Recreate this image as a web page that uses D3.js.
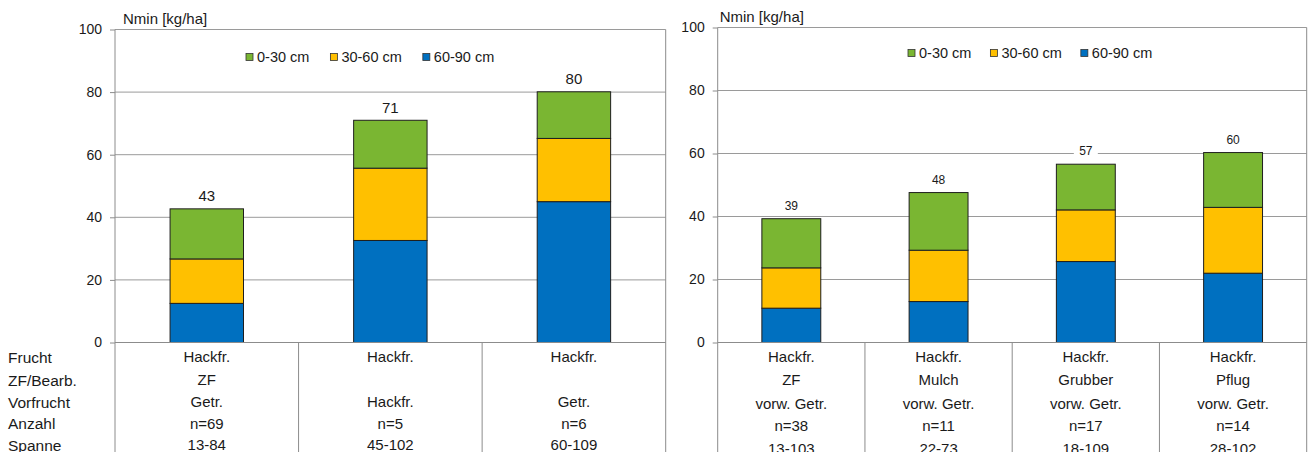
<!DOCTYPE html>
<html>
<head>
<meta charset="utf-8">
<script src="https://cdn.jsdelivr.net/npm/d3@7"></script>
<style>
  html, body { margin: 0; padding: 0; background: #fff; }
  svg { display: block; font-family: "Liberation Sans", Arial, sans-serif; }
</style>
</head>
<body>
<svg id="chart" width="1309" height="452"></svg>
<script>
// Soil mineral nitrogen (Nmin) per depth layer, two panels of stacked bars

const seriesNames = ["0-30 cm", "30-60 cm", "60-90 cm"];
const seriesColors = ["#7AB632", "#FFC000", "#0070C0"];
const rowLabels = ["Frucht", "ZF/Bearb.", "Vorfrucht", "Anzahl", "Spanne"];
const yTicks = [0, 20, 40, 60, 80, 100];
const yTitle = "Nmin [kg/ha]";

// Left panel
const leftCategories = ["A", "B", "C"];
const leftLayer0_30 = [16.0, 15.3, 14.9];
const leftLayer30_60 = [14.2, 23.1, 20.2];
const leftLayer60_90 = [12.5, 32.6, 45.0];
const leftFrucht = ["Hackfr.", "Hackfr.", "Hackfr."];
const leftBearb = ["ZF", "", ""];
const leftVorfrucht = ["Getr.", "Hackfr.", "Getr."];
const leftAnzahl = ["n=69", "n=5", "n=6"];
const leftSpanne = ["13-84", "45-102", "60-109"];

// Right panel
const rightCategories = ["A", "B", "C", "D"];
const rightLayer0_30 = [15.6, 18.3, 14.5, 17.4];
const rightLayer30_60 = [12.8, 16.3, 16.4, 20.9];
const rightLayer60_90 = [10.9, 13.0, 25.7, 22.0];
const rightFrucht = ["Hackfr.", "Hackfr.", "Hackfr.", "Hackfr."];
const rightBearb = ["ZF", "Mulch", "Grubber", "Pflug"];
const rightVorfrucht = ["vorw. Getr.", "vorw. Getr.", "vorw. Getr.", "vorw. Getr."];
const rightAnzahl = ["n=38", "n=11", "n=17", "n=14"];
const rightSpanne = ["13-103", "22-73", "18-109", "28-102"];

const svg = d3.select("#chart");
const GRID = "#9a9a9a";
const AXIS = "#8c8c8c";
const TEXT = "#1a1a1a";

function drawPanel(p) {
  const g = svg.append("g");
  const x = d3.scaleBand().domain(p.categories).range([p.left, p.right]).padding(0);
  const y = d3.scaleLinear().domain([0, 100]).range([p.bottom, p.top]);

  // horizontal grid lines
  g.selectAll(".grid").data(yTicks.filter(t => t > 0)).join("line")
    .attr("x1", p.left).attr("x2", p.right)
    .attr("y1", d => y(d)).attr("y2", d => y(d))
    .attr("stroke", GRID).attr("stroke-width", 1);

  // y axis
  const yAxis = d3.axisLeft(y).tickValues(yTicks).tickSize(5).tickPadding(8).tickFormat(d3.format("d"));
  const ya = g.append("g").attr("transform", `translate(${p.left},0)`).call(yAxis);
  ya.select(".domain").remove();
  ya.selectAll(".tick line").attr("stroke", AXIS);
  ya.selectAll(".tick text").attr("fill", TEXT).style("font-size", p.tickFont + "px")
    .style("font-family", "Liberation Sans, Arial, sans-serif");

  // axis title
  g.append("text").attr("x", p.left + p.titleDx).attr("y", p.top - 6)
    .attr("fill", TEXT).style("font-size", p.titleFont + "px").text(yTitle);

  // stacked bars
  const rows = p.categories.map((c, i) => ({
    cat: c, "60-90 cm": p.s3[i], "30-60 cm": p.s2[i], "0-30 cm": p.s1[i]
  }));
  const stack = d3.stack().keys(["60-90 cm", "30-60 cm", "0-30 cm"]);
  const layers = stack(rows);
  const barW = x.bandwidth() * 0.4;
  layers.forEach(layer => {
    const color = seriesColors[seriesNames.indexOf(layer.key)];
    g.selectAll(null).data(layer).join("rect")
      .attr("x", d => x(d.data.cat) + (x.bandwidth() - barW) / 2)
      .attr("width", barW)
      .attr("y", d => y(d[1]))
      .attr("height", d => y(d[0]) - y(d[1]))
      .attr("fill", color)
      .attr("stroke", "#1e1e1e").attr("stroke-width", 1);
  });

  // total labels
  const totals = rows.map(r => r["60-90 cm"] + r["30-60 cm"] + r["0-30 cm"]);
  const lab = g.selectAll(".tot").data(totals).join("g")
    .attr("transform", (d, i) => `translate(${x(p.categories[i]) + x.bandwidth() / 2},${y(d) - p.labelGap})`);
  lab.append("rect").attr("x", -12).attr("y", -p.labelFont * 0.6).attr("width", 24)
    .attr("height", p.labelFont * 1.2).attr("fill", "#fff");
  lab.append("text").attr("text-anchor", "middle").attr("dy", "0.35em")
    .attr("fill", TEXT).style("font-size", p.labelFont + "px")
    .text(d => Math.round(d));

  // x axis line and column separators reaching into the table
  g.append("line").attr("x1", p.left).attr("x2", p.right)
    .attr("y1", y(0)).attr("y2", y(0)).attr("stroke", AXIS);
  const seps = p.categories.map(c => x(c)).concat([p.right]);
  g.selectAll(".sep").data(seps).join("line")
    .attr("x1", d => d).attr("x2", d => d)
    .attr("y1", (d, i) => (i === 0 || i === seps.length - 1) ? p.top : y(0))
    .attr("y2", 452)
    .attr("stroke", AXIS);

  // table text
  const tableRows = [p.frucht, p.bearb, p.vorfrucht, p.anzahl, p.spanne];
  tableRows.forEach((vals, r) => {
    g.selectAll(null).data(vals).join("text")
      .attr("x", (d, i) => x(p.categories[i]) + x.bandwidth() / 2)
      .attr("y", p.rowY[r]).attr("dy", "0.35em")
      .attr("text-anchor", "middle").attr("fill", TEXT)
      .style("font-size", p.tableFont + "px")
      .text(d => d);
  });

  // legend
  let lx = p.legendX;
  seriesNames.forEach((name, i) => {
    g.append("rect").attr("x", lx).attr("y", p.legendY - 3.5).attr("width", 7).attr("height", 7)
      .attr("fill", seriesColors[i]).attr("stroke", "#333").attr("stroke-width", 0.8);
    const t = g.append("text").attr("x", lx + 11).attr("y", p.legendY).attr("dy", "0.35em")
      .attr("fill", TEXT).style("font-size", p.legendFont + "px").text(name);
    lx += 11 + t.node().getComputedTextLength() + p.legendGap;
  });
}

drawPanel({
  categories: leftCategories, s1: leftLayer0_30, s2: leftLayer30_60, s3: leftLayer60_90,
  frucht: leftFrucht, bearb: leftBearb, vorfrucht: leftVorfrucht, anzahl: leftAnzahl, spanne: leftSpanne,
  left: 115, right: 665.7, top: 29.5, bottom: 342.5,
  rowY: [357, 379.5, 401.5, 423.5, 445],
  legendX: 246, legendY: 57, legendGap: 21,
  tickFont: 14, titleFont: 15, labelFont: 15, tableFont: 15, legendFont: 14.5,
  labelGap: 13, titleDx: 8
});

drawPanel({
  categories: rightCategories, s1: rightLayer0_30, s2: rightLayer30_60, s3: rightLayer60_90,
  frucht: rightFrucht, bearb: rightBearb, vorfrucht: rightVorfrucht, anzahl: rightAnzahl, spanne: rightSpanne,
  left: 717.7, right: 1306.7, top: 27.5, bottom: 342.5,
  rowY: [357, 380, 403.5, 426, 449],
  legendX: 908, legendY: 53, legendGap: 19,
  tickFont: 14, titleFont: 15, labelFont: 12, tableFont: 15, legendFont: 14.5,
  labelGap: 13, titleDx: 2
});

// row labels of the table
svg.selectAll(".rowlab").data(rowLabels).join("text")
  .attr("x", 8).attr("y", (d, i) => [358, 380.5, 402.5, 424, 445.5][i]).attr("dy", "0.35em")
  .attr("fill", TEXT).style("font-size", "15.5px").text(d => d);
</script>
</body>
</html>
